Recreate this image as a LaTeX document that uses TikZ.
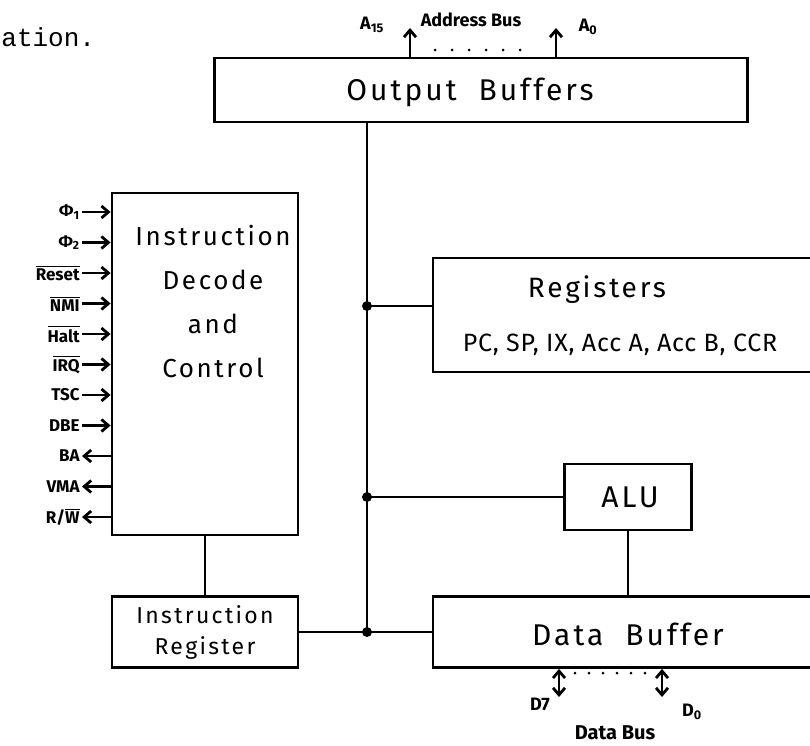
\documentclass[tikz,border=0pt]{standalone}
\usepackage{fontspec}
\usepackage{amsmath}
\setmainfont{Fira Sans}
\newfontfamily\typew{Liberation Mono}
\usetikzlibrary{arrows.meta,positioning,calc}
\newcommand\hand[2]{\fontsize{#1}{#2}\selectfont\addfontfeature{LetterSpace=10}}

\begin{document}
\begin{tikzpicture}[x=1pt,y=-1pt,
  line width=2.8pt,
  blk/.style={draw,line width=2.8pt,inner sep=0pt},
  txt/.style={inner sep=0pt,font=\hand{30}{34}},
  sig/.style={anchor=east,inner sep=1pt,font=\bfseries\fontsize{17}{19}\selectfont},
  lbl/.style={inner sep=0pt,font=\bfseries\fontsize{18}{20}\selectfont},
  into/.style={-{Straight Barb[length=7pt,width=12pt]}},
  both/.style={{Straight Barb[length=7pt,width=12pt]}-{Straight Barb[length=7pt,width=12pt]}},
  dot/.style={circle,fill,inner sep=0pt,minimum size=10pt}]
  \useasboundingbox (0,0) rectangle (810,745);
  \node[inner sep=0pt,anchor=base west,font=\typew\fontsize{26}{30}\selectfont] (frag) at (0,46) {ation.};

  % blocks
  \node[blk,minimum width=533pt,minimum height=64pt] (ob) at (481,90) {};
  \node[txt] (obt) at (470,92) {Output~~Buffers};
  \node[blk,minimum width=186pt,minimum height=342pt] (dec) at (205,364) {};
  \node[txt,anchor=north,align=center,font=\hand{26}{44}] (dect) at (213,224)
    {Instruction\\Decode\\and\\Control};
  \node[blk,minimum width=397pt,minimum height=114pt] (reg) at (631.5,315) {};
  \node[txt,font=\hand{28}{32}] (regt) at (597,290) {Registers};
  \node[txt,font=\fontsize{25}{28}\selectfont\addfontfeature{LetterSpace=3}] (regl) at (620,345) {PC, SP, IX, Acc A, Acc B, CCR};
  \node[blk,minimum width=127pt,minimum height=66pt] (alu) at (628,497) {};
  \node[txt] (alut) at (630,497) {ALU};
  \node[blk,minimum width=397pt,minimum height=71pt] (db) at (631.5,632) {};
  \node[txt] (dbt) at (628,634) {Data~~Buffer};
  \node[blk,minimum width=186pt,minimum height=71pt] (ir) at (205,632) {};
  \node[txt,align=center,font=\hand{23}{31}] (irt) at (205,632) {Instruction\\Register};

  % internal bus
  \coordinate (j1) at (367,306);
  \coordinate (j2) at (367,497);
  \coordinate (j3) at (367,632);
  \draw (j1 |- ob.south) -- (j3);
  \draw (j1) -- (j1 -| reg.west);
  \draw (j2) -- (alu.west);
  \draw (ir.east) -- (db.west);
  \draw (alu.south) -- (alu.south |- db.north);
  \draw (dec.south) -- (ir.north);
  \foreach \j in {j1,j2,j3} \node[dot] at (\j) {};

  % control lines
  \foreach \s [count=\i] in {Φ\textsubscript{1},Φ\textsubscript{2},$\overline{\text{Reset}}$,$\overline{\text{NMI}}$,
      $\overline{\text{Halt}}$,$\overline{\text{IRQ}}$,TSC,DBE} {
    \node[sig] (in\i) at (82,{212+(\i-1)*30.5}) {\s};
    \draw[into] (in\i.east) -- (in\i.east -| dec.west);
  }
  \foreach \s [count=\i] in {BA,VMA,R/$\overline{\text{W}}$} {
    \node[sig] (out\i) at (82,{456+(\i-1)*30.5}) {\s};
    \draw[into] (out\i.east -| dec.west) -- (out\i.east);
  }

  % address bus
  \coordinate (ahi) at (410,28);
  \coordinate (alo) at (556,28);
  \draw[into] (ahi |- ob.north) -- (ahi);
  \draw[into] (alo |- ob.north) -- (alo);
  \draw[line width=3pt,line cap=round,dash pattern=on 0pt off 17pt] (435,50) -- (530,50);
  \node[lbl] (a15) at (372,25) {A\textsubscript{15}};
  \node[lbl] (abus) at (471,20) {Address Bus};
  \node[lbl] (a0) at (588,27) {A\textsubscript{0}};

  % data bus
  \coordinate (dhi) at (559,697);
  \coordinate (dlo) at (662,697);
  \draw[both] (dhi |- db.south) -- (dhi);
  \draw[both] (dlo |- db.south) -- (dlo);
  \draw[line width=3pt,line cap=round,dash pattern=on 0pt off 14pt] (575,673) -- (648,673);
  \node[lbl] (d7) at (540,704) {D7};
  \node[lbl] (d0) at (692,712) {D\textsubscript{0}};
  \node[lbl,font=\bfseries\fontsize{20}{22}\selectfont] (dbus) at (615,733) {Data Bus};
\end{tikzpicture}
\end{document}
